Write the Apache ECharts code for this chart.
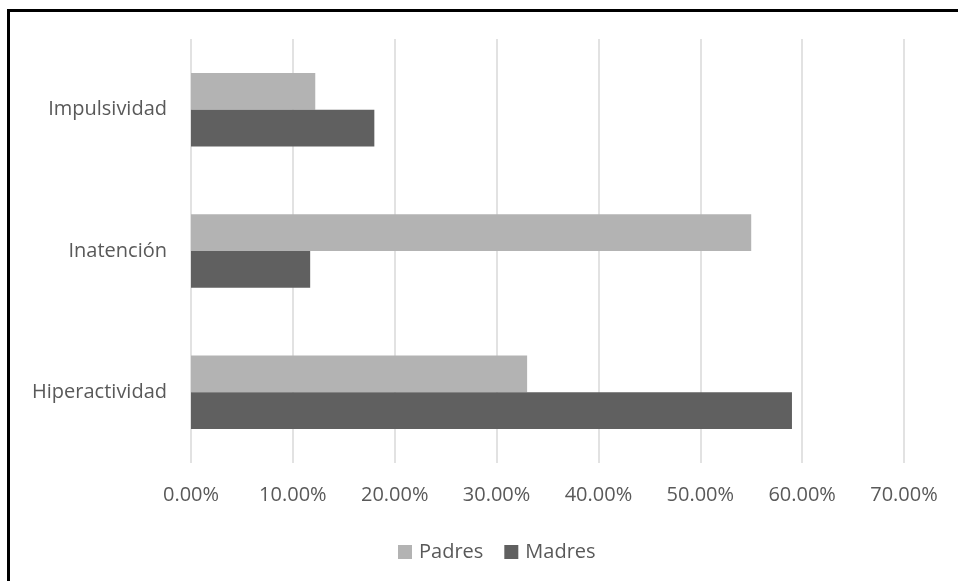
<!DOCTYPE html>
<html>
<head>
<meta charset="utf-8">
<script src="https://cdn.jsdelivr.net/npm/echarts@6/dist/echarts.min.js"></script>
<style>
  html, body { margin: 0; padding: 0; background: #fff; }
  #chart { width: 958px; height: 581px; }
</style>
</head>
<body>
<div id="chart"></div>
<script>
var categories = ['Impulsividad', 'Inatención', 'Hiperactividad'];
var padres = [12.2, 55.0, 33.0];
var madres = [18.0, 11.7, 59.0];
var seriesNames = ['Padres', 'Madres'];
var xMax = 70, xStep = 10;

var myChart = echarts.init(document.getElementById('chart'));

var labelFont = {
    color: '#595959',
    fontFamily: 'Open Sans',
    fontSize: 20
};

option = {
    animation: false,
    color: ['#b3b3b3', '#606060'],
    graphic: [{
        type: 'rect',
        shape: { x: 8.5, y: 10.5, width: 1000, height: 700 },
        style: { fill: 'none', stroke: '#000', lineWidth: 3 }
    }],
    grid: {
        left: 191,
        right: 54,
        top: 39,
        bottom: 118
    },
    legend: {
        data: seriesNames,
        top: 537,
        left: 393,
        itemWidth: 14,
        itemHeight: 14,
        itemGap: 21,
        icon: 'rect',
        textStyle: Object.assign({ padding: [0, 0, 0, 2] }, labelFont)
    },
    xAxis: {
        type: 'value',
        min: 0,
        max: xMax,
        interval: xStep,
        axisLine: { show: false },
        axisTick: { show: false },
        axisLabel: Object.assign({
            margin: 22,
            formatter: function (v) { return v.toFixed(2) + '%'; }
        }, labelFont),
        splitLine: { lineStyle: { color: '#d9d9d9', width: 1.5 } }
    },
    yAxis: {
        type: 'category',
        data: categories,
        inverse: true,
        axisLine: { show: false },
        axisTick: { show: false },
        axisLabel: Object.assign({ margin: 24 }, labelFont)
    },
    series: [
        {
            name: 'Padres',
            type: 'bar',
            data: padres,
            barGap: '0%',
            barCategoryGap: '48%'
        },
        {
            name: 'Madres',
            type: 'bar',
            data: madres,
            barGap: '0%',
            barCategoryGap: '48%'
        }
    ]
};

myChart.setOption(option);
</script>
</body>
</html>
